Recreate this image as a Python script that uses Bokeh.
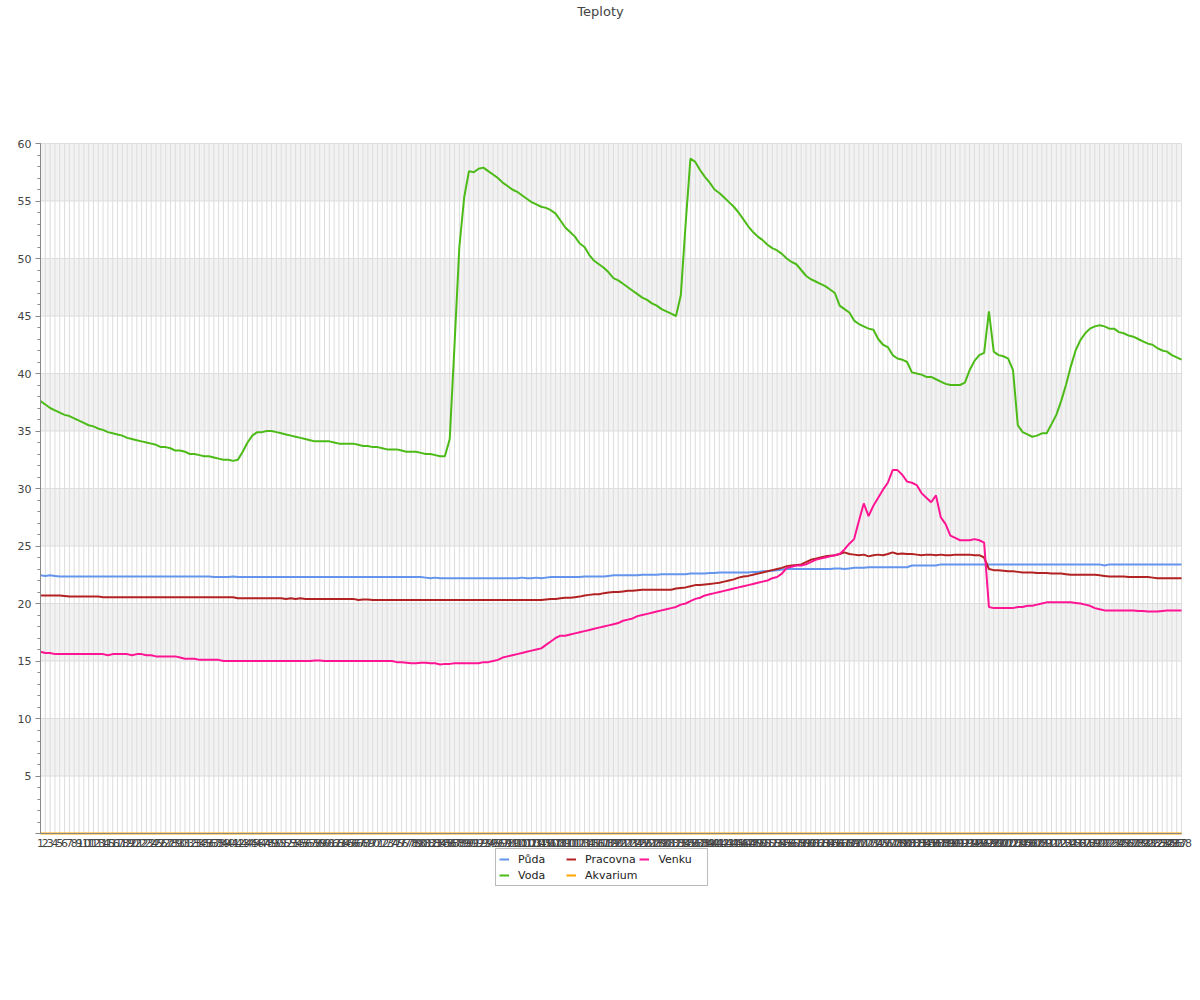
from bokeh.plotting import figure
from bokeh.models import Range1d, FixedTicker, SingleIntervalTicker, Legend, LegendItem, Label
from bokeh.embed import file_html
from bokeh.resources import INLINE

# ---- data -------------------------------------------------------------
hodiny = list(range(1, 239))  # category labels 1..238

puda = [
    22.45, 22.4, 22.45, 22.4, 22.35, 22.35, 22.35, 22.35, 22.35, 22.35,
    22.35, 22.35, 22.35, 22.35, 22.35, 22.35, 22.35, 22.35, 22.35, 22.35,
    22.35, 22.35, 22.35, 22.35, 22.35, 22.35, 22.35, 22.35, 22.35, 22.35,
    22.35, 22.35, 22.35, 22.35, 22.35, 22.35, 22.3, 22.3, 22.3, 22.3,
    22.35, 22.3, 22.3, 22.3, 22.3, 22.3, 22.3, 22.3, 22.3, 22.3,
    22.3, 22.3, 22.3, 22.3, 22.3, 22.3, 22.3, 22.3, 22.3, 22.3,
    22.3, 22.3, 22.3, 22.3, 22.3, 22.3, 22.3, 22.3, 22.3, 22.3,
    22.3, 22.3, 22.3, 22.3, 22.3, 22.3, 22.3, 22.3, 22.3, 22.3,
    22.25, 22.2, 22.25, 22.2, 22.2, 22.2, 22.2, 22.2, 22.2, 22.2,
    22.2, 22.2, 22.2, 22.2, 22.2, 22.2, 22.2, 22.2, 22.2, 22.2,
    22.25, 22.2, 22.2, 22.25, 22.2, 22.25, 22.3, 22.3, 22.3, 22.3,
    22.3, 22.3, 22.3, 22.35, 22.35, 22.35, 22.35, 22.35, 22.4, 22.45,
    22.45, 22.45, 22.45, 22.45, 22.45, 22.5, 22.5, 22.5, 22.5, 22.55,
    22.55, 22.55, 22.55, 22.55, 22.55, 22.6, 22.6, 22.6, 22.6, 22.65,
    22.65, 22.7, 22.7, 22.7, 22.7, 22.7, 22.7, 22.7, 22.75, 22.75,
    22.8, 22.8, 22.85, 22.9, 22.95, 23.0, 23.0, 23.0, 23.0, 23.0,
    23.0, 23.0, 23.0, 23.0, 23.0, 23.05, 23.05, 23.0, 23.05, 23.1,
    23.1, 23.1, 23.15, 23.15, 23.15, 23.15, 23.15, 23.15, 23.15, 23.15,
    23.15, 23.3, 23.3, 23.3, 23.3, 23.3, 23.3, 23.4, 23.4, 23.4,
    23.4, 23.4, 23.4, 23.4, 23.4, 23.4, 23.4, 23.4, 23.4, 23.4,
    23.4, 23.4, 23.4, 23.4, 23.4, 23.4, 23.4, 23.4, 23.4, 23.4,
    23.4, 23.4, 23.4, 23.4, 23.4, 23.4, 23.4, 23.4, 23.4, 23.4,
    23.4, 23.3, 23.4, 23.4, 23.4, 23.4, 23.4, 23.4, 23.4, 23.4,
    23.4, 23.4, 23.4, 23.4, 23.4, 23.4, 23.4, 23.4,
]

voda = [
    37.6, 37.3, 37.0, 36.8, 36.6, 36.4, 36.3, 36.1, 35.9, 35.7,
    35.5, 35.4, 35.2, 35.1, 34.9, 34.8, 34.7, 34.6, 34.4, 34.3,
    34.2, 34.1, 34.0, 33.9, 33.8, 33.6, 33.6, 33.5, 33.3, 33.3,
    33.2, 33.0, 33.0, 32.9, 32.8, 32.8, 32.7, 32.6, 32.5, 32.5,
    32.4, 32.5, 33.2, 34.0, 34.6, 34.9, 34.9, 35.0, 35.0, 34.9,
    34.8, 34.7, 34.6, 34.5, 34.4, 34.3, 34.2, 34.1, 34.1, 34.1,
    34.1, 34.0, 33.9, 33.9, 33.9, 33.9, 33.8, 33.7, 33.7, 33.6,
    33.6, 33.5, 33.4, 33.4, 33.4, 33.3, 33.2, 33.2, 33.2, 33.1,
    33.0, 33.0, 32.9, 32.8, 32.8, 34.3, 42.5, 51.0, 55.3, 57.6,
    57.5, 57.8, 57.9, 57.6, 57.3, 57.0, 56.6, 56.3, 56.0, 55.8,
    55.5, 55.2, 54.9, 54.7, 54.5, 54.4, 54.2, 53.9, 53.3, 52.7,
    52.3, 51.9, 51.3, 51.0, 50.3, 49.8, 49.5, 49.2, 48.8, 48.3,
    48.1, 47.8, 47.5, 47.2, 46.9, 46.6, 46.4, 46.1, 45.9, 45.6,
    45.4, 45.2, 45.0, 46.8, 53.0, 58.7, 58.4, 57.7, 57.1, 56.6,
    56.0, 55.7, 55.3, 54.9, 54.5, 54.0, 53.4, 52.8, 52.3, 51.9,
    51.6, 51.2, 50.9, 50.7, 50.4, 50.0, 49.7, 49.5, 49.0, 48.5,
    48.2, 48.0, 47.8, 47.6, 47.3, 47.0, 45.9, 45.6, 45.3, 44.6,
    44.3, 44.1, 43.9, 43.8, 43.0, 42.5, 42.3, 41.6, 41.3, 41.2,
    41.0, 40.1, 40.0, 39.9, 39.7, 39.7, 39.5, 39.3, 39.1, 39.0,
    39.0, 39.0, 39.2, 40.3, 41.1, 41.6, 41.8, 45.4, 41.9, 41.6,
    41.5, 41.3, 40.3, 35.5, 34.9, 34.7, 34.5, 34.6, 34.8, 34.8,
    35.6, 36.4, 37.6, 39.0, 40.6, 42.0, 42.9, 43.5, 43.9, 44.1,
    44.2, 44.1, 43.9, 43.9, 43.6, 43.5, 43.3, 43.2, 43.0, 42.8,
    42.6, 42.5, 42.2, 42.0, 41.9, 41.6, 41.4, 41.2,
]

pracovna = [
    20.7, 20.7, 20.7, 20.7, 20.7, 20.65, 20.6, 20.6, 20.6, 20.6,
    20.6, 20.6, 20.6, 20.55, 20.55, 20.55, 20.55, 20.55, 20.55, 20.55,
    20.55, 20.55, 20.55, 20.55, 20.55, 20.55, 20.55, 20.55, 20.55, 20.55,
    20.55, 20.55, 20.55, 20.55, 20.55, 20.55, 20.55, 20.55, 20.55, 20.55,
    20.55, 20.45, 20.45, 20.45, 20.45, 20.45, 20.45, 20.45, 20.45, 20.45,
    20.45, 20.4, 20.45, 20.4, 20.45, 20.4, 20.4, 20.4, 20.4, 20.4,
    20.4, 20.4, 20.4, 20.4, 20.4, 20.4, 20.3, 20.35, 20.35, 20.3,
    20.3, 20.3, 20.3, 20.3, 20.3, 20.3, 20.3, 20.3, 20.3, 20.3,
    20.3, 20.3, 20.3, 20.3, 20.3, 20.3, 20.3, 20.3, 20.3, 20.3,
    20.3, 20.3, 20.3, 20.3, 20.3, 20.3, 20.3, 20.3, 20.3, 20.3,
    20.3, 20.3, 20.3, 20.3, 20.3, 20.35, 20.4, 20.4, 20.45, 20.5,
    20.5, 20.55, 20.6, 20.7, 20.75, 20.8, 20.8, 20.9, 20.95, 21.0,
    21.0, 21.05, 21.1, 21.1, 21.15, 21.2, 21.2, 21.2, 21.2, 21.2,
    21.2, 21.2, 21.3, 21.35, 21.4, 21.5, 21.6, 21.6, 21.65, 21.7,
    21.75, 21.8, 21.9, 22.0, 22.1, 22.25, 22.35, 22.4, 22.5, 22.6,
    22.7, 22.8, 22.9, 23.0, 23.1, 23.25, 23.3, 23.35, 23.4, 23.6,
    23.8, 23.9, 24.0, 24.1, 24.15, 24.2, 24.3, 24.45, 24.3, 24.25,
    24.2, 24.25, 24.1, 24.2, 24.25, 24.2, 24.3, 24.45, 24.3, 24.35,
    24.3, 24.3, 24.25, 24.2, 24.25, 24.25, 24.2, 24.25, 24.2, 24.2,
    24.25, 24.25, 24.25, 24.25, 24.2, 24.2, 24.0, 23.0, 22.9, 22.9,
    22.85, 22.8, 22.8, 22.75, 22.7, 22.7, 22.7, 22.65, 22.65, 22.65,
    22.6, 22.6, 22.6, 22.55, 22.5, 22.5, 22.5, 22.5, 22.5, 22.5,
    22.45, 22.4, 22.35, 22.35, 22.35, 22.35, 22.3, 22.3, 22.3, 22.3,
    22.3, 22.25, 22.2, 22.2, 22.2, 22.2, 22.2, 22.2,
]

akvarium = [
    0, 0, 0, 0, 0, 0, 0, 0, 0, 0,
    0, 0, 0, 0, 0, 0, 0, 0, 0, 0,
    0, 0, 0, 0, 0, 0, 0, 0, 0, 0,
    0, 0, 0, 0, 0, 0, 0, 0, 0, 0,
    0, 0, 0, 0, 0, 0, 0, 0, 0, 0,
    0, 0, 0, 0, 0, 0, 0, 0, 0, 0,
    0, 0, 0, 0, 0, 0, 0, 0, 0, 0,
    0, 0, 0, 0, 0, 0, 0, 0, 0, 0,
    0, 0, 0, 0, 0, 0, 0, 0, 0, 0,
    0, 0, 0, 0, 0, 0, 0, 0, 0, 0,
    0, 0, 0, 0, 0, 0, 0, 0, 0, 0,
    0, 0, 0, 0, 0, 0, 0, 0, 0, 0,
    0, 0, 0, 0, 0, 0, 0, 0, 0, 0,
    0, 0, 0, 0, 0, 0, 0, 0, 0, 0,
    0, 0, 0, 0, 0, 0, 0, 0, 0, 0,
    0, 0, 0, 0, 0, 0, 0, 0, 0, 0,
    0, 0, 0, 0, 0, 0, 0, 0, 0, 0,
    0, 0, 0, 0, 0, 0, 0, 0, 0, 0,
    0, 0, 0, 0, 0, 0, 0, 0, 0, 0,
    0, 0, 0, 0, 0, 0, 0, 0, 0, 0,
    0, 0, 0, 0, 0, 0, 0, 0, 0, 0,
    0, 0, 0, 0, 0, 0, 0, 0, 0, 0,
    0, 0, 0, 0, 0, 0, 0, 0, 0, 0,
    0, 0, 0, 0, 0, 0, 0, 0,
]

venku = [
    15.8, 15.7, 15.7, 15.6, 15.6, 15.6, 15.6, 15.6, 15.6, 15.6,
    15.6, 15.6, 15.6, 15.6, 15.5, 15.6, 15.6, 15.6, 15.6, 15.5,
    15.6, 15.6, 15.5, 15.5, 15.4, 15.4, 15.4, 15.4, 15.4, 15.3,
    15.2, 15.2, 15.2, 15.1, 15.1, 15.1, 15.1, 15.1, 15.0, 15.0,
    15.0, 15.0, 15.0, 15.0, 15.0, 15.0, 15.0, 15.0, 15.0, 15.0,
    15.0, 15.0, 15.0, 15.0, 15.0, 15.0, 15.0, 15.05, 15.05, 15.0,
    15.0, 15.0, 15.0, 15.0, 15.0, 15.0, 15.0, 15.0, 15.0, 15.0,
    15.0, 15.0, 15.0, 15.0, 14.9, 14.9, 14.85, 14.8, 14.8, 14.85,
    14.85, 14.8, 14.8, 14.7, 14.75, 14.75, 14.8, 14.8, 14.8, 14.8,
    14.8, 14.8, 14.9, 14.9, 15.0, 15.1, 15.3, 15.4, 15.5, 15.6,
    15.7, 15.8, 15.9, 16.0, 16.1, 16.4, 16.7, 17.0, 17.2, 17.2,
    17.3, 17.4, 17.5, 17.6, 17.7, 17.8, 17.9, 18.0, 18.1, 18.2,
    18.3, 18.5, 18.6, 18.7, 18.9, 19.0, 19.1, 19.2, 19.3, 19.4,
    19.5, 19.6, 19.7, 19.9, 20.0, 20.2, 20.4, 20.5, 20.7, 20.8,
    20.9, 21.0, 21.1, 21.2, 21.3, 21.4, 21.5, 21.6, 21.7, 21.8,
    21.9, 22.0, 22.2, 22.3, 22.6, 23.1, 23.2, 23.3, 23.3, 23.4,
    23.6, 23.8, 23.9, 24.0, 24.1, 24.2, 24.3, 24.7, 25.2, 25.6,
    27.2, 28.7, 27.6, 28.5, 29.2, 29.9, 30.5, 31.6, 31.6, 31.2,
    30.6, 30.5, 30.3, 29.6, 29.2, 28.8, 29.4, 27.5, 26.9, 25.9,
    25.7, 25.5, 25.5, 25.5, 25.6, 25.5, 25.3, 19.7, 19.6, 19.6,
    19.6, 19.6, 19.6, 19.7, 19.7, 19.8, 19.8, 19.9, 20.0, 20.1,
    20.1, 20.1, 20.1, 20.1, 20.1, 20.05, 20.0, 19.9, 19.8, 19.6,
    19.5, 19.4, 19.4, 19.4, 19.4, 19.4, 19.4, 19.4, 19.35, 19.35,
    19.3, 19.3, 19.3, 19.35, 19.4, 19.4, 19.4, 19.4,
]

series_names = ["Půda", "Voda", "Pracovna", "Akvarium", "Venku"]
series_colors = ["#6495ED", "#4CBB17", "#B22222", "#FFA500", "#FF1493"]
y_ticks = [0, 5, 10, 15, 20, 25, 30, 35, 40, 45, 50, 55, 60]
chart_title = "Teploty"

FONT = "DejaVu Sans"

# ---- layout geometry (pixels) ----------------------------------------
CANVAS_W = 1192
FRAME_H = 900            # frame spans from canvas top to below the legend
PLOT_LEFT = 40           # pixel x of the first category / y axis
PLOT_RIGHT = 1181        # pixel x of the last category
PX_PER_UNIT = 11.5       # vertical scale
TOP_GAP = 143            # pixels from canvas top down to the 60 line

px_per_cat = (PLOT_RIGHT - PLOT_LEFT) / (hodiny[-1] - hodiny[0])
x_lo = hodiny[0] - PLOT_LEFT / px_per_cat
x_hi = hodiny[-1] + (CANVAS_W - PLOT_RIGHT) / px_per_cat
y_hi = y_ticks[-1] + TOP_GAP / PX_PER_UNIT
y_lo = y_hi - FRAME_H / PX_PER_UNIT

p = figure(
    frame_width=CANVAS_W, frame_height=FRAME_H,
    min_border_left=0, min_border_right=0,
    min_border_top=0, min_border_bottom=0,
    x_range=Range1d(x_lo, x_hi),
    y_range=Range1d(y_lo, y_hi),
    output_backend="svg", toolbar_location=None,
)
p.outline_line_color = None
p.background_fill_color = "white"
p.border_fill_color = "white"

# title at the top of the canvas
p.add_layout(Label(
    x=600, y=FRAME_H - 11, x_units="screen", y_units="screen", text=chart_title,
    text_align="center", text_baseline="middle",
    text_font=FONT, text_font_size="13px", text_color="#444444",
))

# built-in grids off; bands and grid lines drawn from the tick lists
p.xgrid.visible = False
p.ygrid.visible = False

band_lo = y_ticks[1:-1:2]
band_hi = y_ticks[2::2]
p.quad(left=hodiny[0], right=hodiny[-1], bottom=band_lo, top=band_hi,
       fill_color="#f2f2f2", line_color=None)

# horizontal grid lines at every y tick
p.segment(x0=[hodiny[0]] * len(y_ticks), y0=y_ticks, x1=[hodiny[-1]] * len(y_ticks), y1=y_ticks,
          line_color="#dddddd", line_width=1)
# vertical grid lines, one per category, limited to 0..60
p.segment(x0=hodiny, y0=[y_ticks[0]] * len(hodiny), x1=hodiny, y1=[y_ticks[-1]] * len(hodiny),
          line_color="#dddddd", line_width=1)

# y axis drawn at the first category
p.yaxis.ticker = SingleIntervalTicker(interval=5, num_minor_ticks=5)
p.yaxis.fixed_location = hodiny[0]
p.yaxis.bounds = (y_ticks[0], y_ticks[-1])
p.yaxis.major_label_overrides = {0: ""}
p.yaxis.axis_line_color = "#888888"
p.yaxis.major_tick_line_color = "#888888"
p.yaxis.minor_tick_line_color = "#888888"
p.yaxis.major_tick_out = 5
p.yaxis.major_tick_in = 0
p.yaxis.minor_tick_out = 3
p.yaxis.minor_tick_in = 0
p.yaxis.major_label_standoff = 4
p.yaxis.major_label_text_font = FONT
p.yaxis.major_label_text_font_size = "11px"
p.yaxis.major_label_text_color = "#444444"

# x axis drawn at y = 0
p.xaxis.ticker = FixedTicker(ticks=hodiny)
p.xaxis.fixed_location = y_ticks[0]
p.xaxis.bounds = (hodiny[0], hodiny[-1])
p.xaxis.axis_line_color = "#888888"
p.xaxis.major_tick_out = 0
p.xaxis.major_tick_in = 0
p.xaxis.minor_tick_line_color = None
p.xaxis.major_label_standoff = 5
p.xaxis.major_label_text_font = FONT
p.xaxis.major_label_text_font_size = "11px"
p.xaxis.major_label_text_color = "#444444"

# lines
all_series = [puda, voda, pracovna, akvarium, venku]
items = []
for name, col, ys in zip(series_names, series_colors, all_series):
    r = p.line(hodiny, ys, line_color=col, line_width=2)
    items.append(LegendItem(label=name, renderers=[r]))

legend = Legend(
    items=items, orientation="vertical", nrows=2,
    location=(495, 14),
    label_text_font=FONT, label_text_font_size="11px", label_text_color="#222222",
    glyph_width=10, glyph_height=14, label_height=14, label_standoff=9,
    label_width=46, spacing=2, padding=3, margin=0,
    border_line_color="#777777", border_line_width=1,
    background_fill_color="white", background_fill_alpha=1.0,
)
p.add_layout(legend)

open("out.html", "w").write(file_html(p, INLINE))
